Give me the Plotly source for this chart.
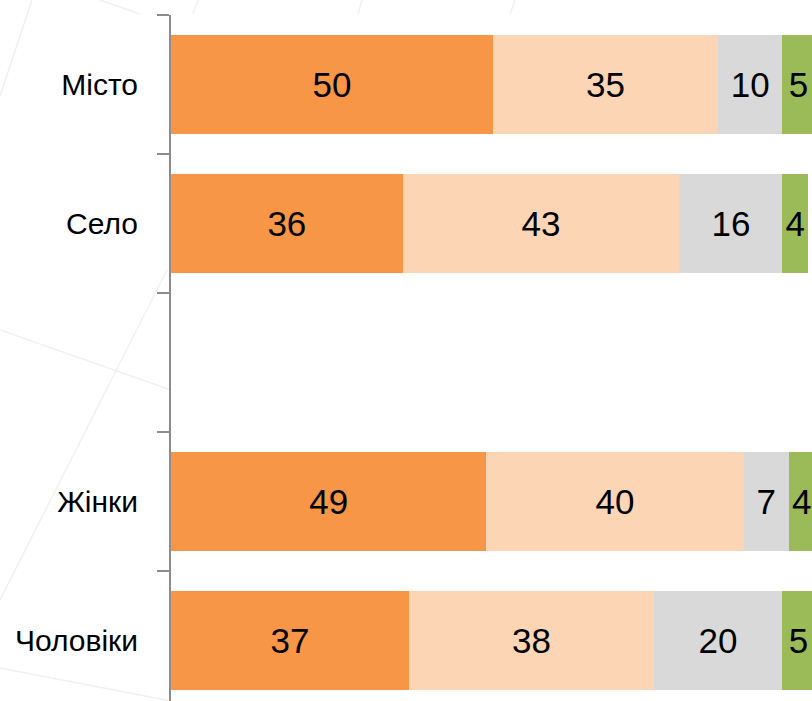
import plotly.graph_objects as go

# Categories (blank slot keeps the gap between the two groups)
categories = ["Місто", "Село", " ", "Жінки", "Чоловіки"]

# Series values, %
series_1 = [50, 36, None, 49, 37]
series_2 = [35, 43, None, 40, 38]
series_3 = [10, 16, None, 7, 20]
series_4 = [5, 4, None, 4, 5]

colors = ["#F79646", "#FCD5B5", "#D9D9D9", "#9BBB59"]
FONT = "Liberation Sans Narrow, Arial Narrow, Liberation Sans, Arial, sans-serif"

W, H = 812, 701
PLOT_L, PLOT_T = 171, 15          # plot area corner on the page
ROW = 139                         # px per category slot


def px_to_paper(x, y):
    # page pixel -> paper coords of the plot area
    return (x - PLOT_L) / (W - PLOT_L), (H - y) / (H - PLOT_T)


# faint diagonal strokes of the slide background (page pixels)
bg_lines = [
    ((32, 0), (0, 96)),
    ((167, 270), (0, 600)),
    ((0, 330), (171, 390)),
    ((0, 668), (171, 701)),
    ((100, 0), (140, 14)),
    ((198, 0), (193, 14)),
    ((362, 0), (358, 14)),
    ((515, 0), (510, 14)),
]

fig = go.Figure()

for vals, color in zip([series_1, series_2, series_3, series_4], colors):
    fig.add_trace(
        go.Bar(
            y=categories,
            x=vals,
            orientation="h",
            marker=dict(color=color, line_width=0),
            text=[v if v is not None else "" for v in vals],
            textposition="inside",
            insidetextanchor="middle",
            textangle=0,
            textfont=dict(family=FONT, size=35, color="black"),
            showlegend=False,
        )
    )

for (x0, y0), (x1, y1) in bg_lines:
    px0, py0 = px_to_paper(x0, y0)
    px1, py1 = px_to_paper(x1, y1)
    fig.add_shape(
        type="line", xref="paper", yref="paper",
        x0=px0, y0=py0, x1=px1, y1=py1,
        line=dict(color="#f1f1f1", width=1.5),
        layer="below",
    )

fig.update_layout(
    width=W,
    height=H,
    barmode="stack",
    bargap=0.29,
    margin=dict(l=PLOT_L, r=0, t=PLOT_T, b=0, pad=0),
    paper_bgcolor="white",
    plot_bgcolor="white",
    uniformtext=dict(mode="show", minsize=10),
)

fig.update_xaxes(visible=False, range=[0, 99.6], showgrid=False,
                 zeroline=False, automargin=False)

fig.update_yaxes(
    type="category",
    categoryorder="array",
    categoryarray=categories,
    range=[-0.5 + (H - PLOT_T) / ROW, -0.5],
    tickson="boundaries",
    ticks="outside",
    ticklen=12,
    tickwidth=2,
    tickcolor="#8c8c8c",
    showline=True,
    linewidth=2,
    linecolor="#8c8c8c",
    showgrid=False,
    zeroline=False,
    automargin=False,
    ticklabelstandoff=25,
    tickfont=dict(family=FONT, size=30, color="black"),
)

# drop the default 8px page margin so the figure sits at the window corner
fig.write_html(
    "out.html",
    config={"displayModeBar": False},
    post_script="document.body.style.margin='0';document.body.style.overflow='hidden';",
)
